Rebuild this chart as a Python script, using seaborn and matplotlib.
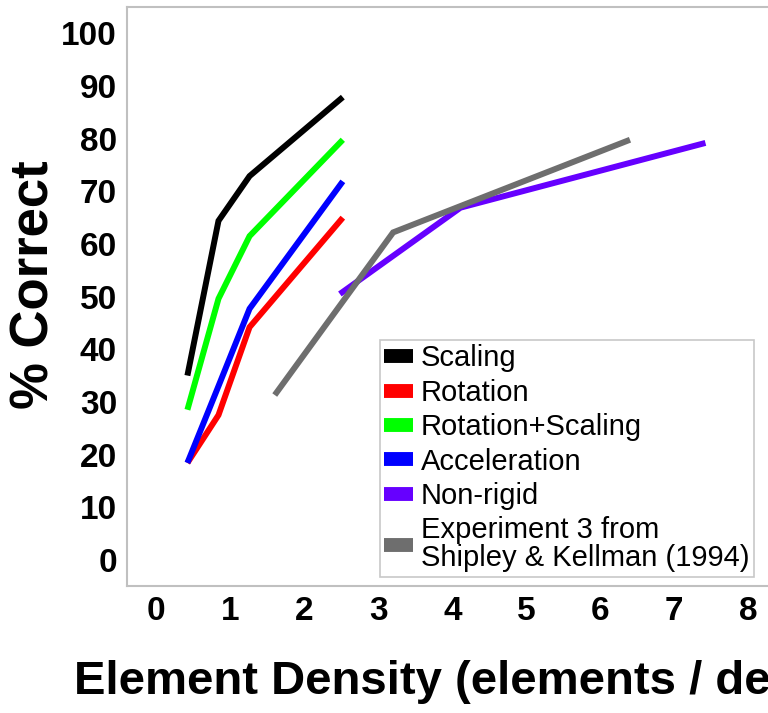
import numpy as np
import pandas as pd
import matplotlib
matplotlib.use("Agg")
import matplotlib.pyplot as plt
from matplotlib.lines import Line2D
import seaborn as sns

# values
scaling_x = [0.42, 0.84, 1.26, 2.52]
scaling_y = [35.0, 64.4, 72.9, 87.9]
rotation_x = [0.42, 0.84, 1.26, 2.52]
rotation_y = [18.4, 27.5, 44.2, 65.0]
rotscale_x = [0.42, 0.84, 1.26, 2.52]
rotscale_y = [28.5, 49.6, 61.5, 79.8]
accel_x = [0.42, 0.84, 1.26, 2.52]
accel_y = [18.4, 33.0, 47.7, 71.9]
nonrigid_x = [2.48, 4.11, 7.42]
nonrigid_y = [50.5, 66.9, 79.2]
shipley_x = [1.6, 3.2, 6.4]
shipley_y = [31.3, 62.2, 79.8]

labels = ["Scaling", "Rotation", "Rotation+Scaling", "Acceleration", "Non-rigid",
          "Experiment 3 from\nShipley & Kellman (1994)"]
colors = ["#000000", "#FF0000", "#00FF00", "#0000FF", "#6600FF", "#6E6E6E"]

series = [(scaling_x, scaling_y), (rotation_x, rotation_y), (rotscale_x, rotscale_y),
          (accel_x, accel_y), (nonrigid_x, nonrigid_y), (shipley_x, shipley_y)]

frames = []
for name, (xs, ys) in zip(labels, series):
    frames.append(pd.DataFrame({"density": xs, "correct": ys, "condition": name}))
df = pd.concat(frames, ignore_index=True)

sns.set_style("white")
plt.rcParams["font.family"] = ["Liberation Sans", "DejaVu Sans"]
plt.rcParams["text.color"] = "black"
plt.rcParams["axes.labelcolor"] = "black"

fig = plt.figure(figsize=(7.68, 7.13), dpi=100)
ax = fig.add_axes([0.165, 0.178, 0.848, 0.812])

palette = dict(zip(labels, colors))
sns.lineplot(data=df, x="density", y="correct", hue="condition", hue_order=labels,
             palette=palette, sort=False, estimator=None, linewidth=4.3,
             legend=False, ax=ax)
for line in ax.get_lines():
    line.set_solid_capstyle("butt")
    line.set_solid_joinstyle("miter")

ax.set_xlim(-0.4, 8.4)
ax.set_ylim(-5, 105)
ax.set_xticks(range(0, 9))
ax.set_yticks(range(0, 101, 10))
ax.tick_params(axis="both", length=4, width=1.2, color="#333333", labelsize=24,
               labelcolor="black", pad=3, direction="out")
for lab in ax.get_xticklabels() + ax.get_yticklabels():
    lab.set_fontweight("bold")
for sp in ax.spines.values():
    sp.set_color("#C0C0C0")
    sp.set_linewidth(1.5)

ax.set_xlabel("Element Density (elements / deg²)", fontsize=34, fontweight="bold")
ax.set_ylabel("% Correct", fontsize=38, fontweight="bold")
ax.xaxis.set_label_coords(0.5, -0.128)
ax.yaxis.set_label_coords(-0.103, 0.52)

handles = [Line2D([0], [0], color=c, linewidth=10, solid_capstyle="butt") for c in colors]
leg = ax.legend(handles, labels, loc="upper left", bbox_to_anchor=(0.389, 0.425),
                fontsize=21, frameon=True, fancybox=False, framealpha=1,
                edgecolor="#C8C8C8", handlelength=0.97, handletextpad=0.28,
                labelspacing=0.22, borderpad=0.15, borderaxespad=0)
leg.get_frame().set_linewidth(1.2)
for t in leg.get_texts():
    t.set_linespacing(1.0)

fig.savefig("out.png", dpi=100)
